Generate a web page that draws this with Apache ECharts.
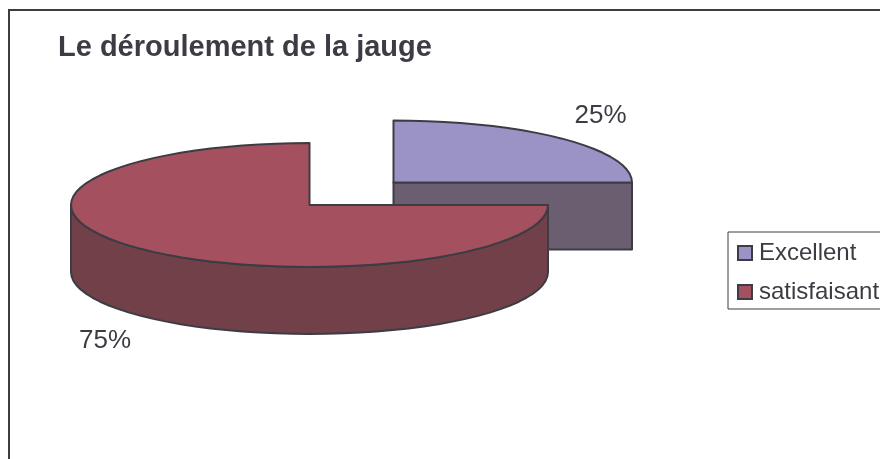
<!DOCTYPE html>
<html><head><meta charset="utf-8">
<style>html,body{margin:0;padding:0;background:#fff}#c{width:880px;height:459px}</style>
<script src="https://cdn.jsdelivr.net/npm/echarts@6/dist/echarts.min.js"></script>
</head><body><div id="c"></div>
<script>
var titleText = 'Le déroulement de la jauge';
var categories = ['Excellent', 'satisfaisant'];
var values = [25, 75];
var topColors = ['#9b93c6', '#a5505e'];
var sideColors = ['#6b5e71', '#724048'];
var lineColor = '#3c3c44';
var font = '"Liberation Sans", Arial, sans-serif';
var total = values.reduce(function (a, b) { return a + b; }, 0);

var pie = { cx: 309.5, cy: 205, rx: 238.5, ry: 62, depth: 67 };
var offsets = [[84, -22.5], [0, 0]];
var labelPos = [[600.5, 116], [105, 341]];

function sweep(i) {
  var before = 0;
  for (var k = 0; k < i; k++) before += values[k];
  var a0 = -Math.PI / 2 + before / total * 2 * Math.PI;
  return [a0, a0 + values[i] / total * 2 * Math.PI];
}

function arcPts(cx, cy, a0, a1) {
  var n = Math.max(2, Math.round((a1 - a0) / (Math.PI / 2) * 22)), pts = [];
  for (var j = 0; j <= n; j++) {
    var a = a0 + (a1 - a0) * j / n;
    pts.push([cx + pie.rx * Math.cos(a), cy + pie.ry * Math.sin(a)]);
  }
  return pts;
}

function renderWedge(i) {
  return function (params, api) {
    var cx = pie.cx + offsets[i][0], cy = pie.cy + offsets[i][1];
    var s = sweep(i), a0 = s[0], a1 = s[1];
    var children = [];
    var p = function (points, fill) {
      children.push({ type: 'polygon', shape: { points: points },
        style: { fill: fill, stroke: lineColor, lineWidth: 2, lineJoin: 'round' } });
    };
    // near-facing cut face along the end radius
    var endX = cx + pie.rx * Math.cos(a1), endY = cy + pie.ry * Math.sin(a1);
    if (Math.abs(Math.sin(a1)) < 1e-6 && Math.cos(a1) > 0) {
      p([[cx, cy], [endX, endY], [endX, endY + pie.depth], [cx, cy + pie.depth]], sideColors[i]);
    }
    // outer wall: the part of the rim in the lower half of the ellipse
    var w0 = Math.max(a0, 0), w1 = Math.min(a1, Math.PI);
    if (w1 > w0) {
      var rim = arcPts(cx, cy, w0, w1);
      var low = rim.map(function (q) { return [q[0], q[1] + pie.depth]; }).reverse();
      p(rim.concat(low), sideColors[i]);
    }
    // top face
    p([[cx, cy]].concat(arcPts(cx, cy, a0, a1)), topColors[i]);
    // percentage label
    children.push({
      type: 'text',
      style: {
        text: Math.round(api.value(0) / total * 100) + '%',
        x: labelPos[i][0], y: labelPos[i][1], align: 'center', verticalAlign: 'middle',
        font: '26px ' + font, fill: lineColor
      }
    });
    return { type: 'group', children: children };
  };
}

var chart = echarts.init(document.getElementById('c'), null, { renderer: 'canvas' });
chart.setOption({
  animation: false,
  backgroundColor: '#ffffff',
  title: {
    text: titleText, left: 53, top: 28,
    textStyle: { fontFamily: font, fontSize: 29, fontWeight: 'bold', color: lineColor }
  },
  graphic: [{
    type: 'rect', z: -1, silent: true,
    shape: { x: 9, y: 10, width: 900, height: 500 },
    style: { fill: '#ffffff', stroke: lineColor, lineWidth: 2 }
  }],
  legend: {
    orient: 'vertical', left: 728, top: 232,
    padding: [9, 10, 5, 9],
    itemWidth: 14, itemHeight: 14, itemGap: 15,
    icon: 'rect',
    backgroundColor: '#ffffff', borderColor: lineColor, borderWidth: 1,
    itemStyle: { borderColor: lineColor, borderWidth: 2 },
    textStyle: { fontFamily: font, fontSize: 24, color: lineColor, padding: [0, 0, 0, 2] },
    data: categories
  },
  series: categories.map(function (name, i) {
    return {
      type: 'custom', name: name, coordinateSystem: 'none', silent: true,
      itemStyle: { color: topColors[i] },
      renderItem: renderWedge(i),
      data: [[values[i]]]
    };
  })
});
</script></body></html>
